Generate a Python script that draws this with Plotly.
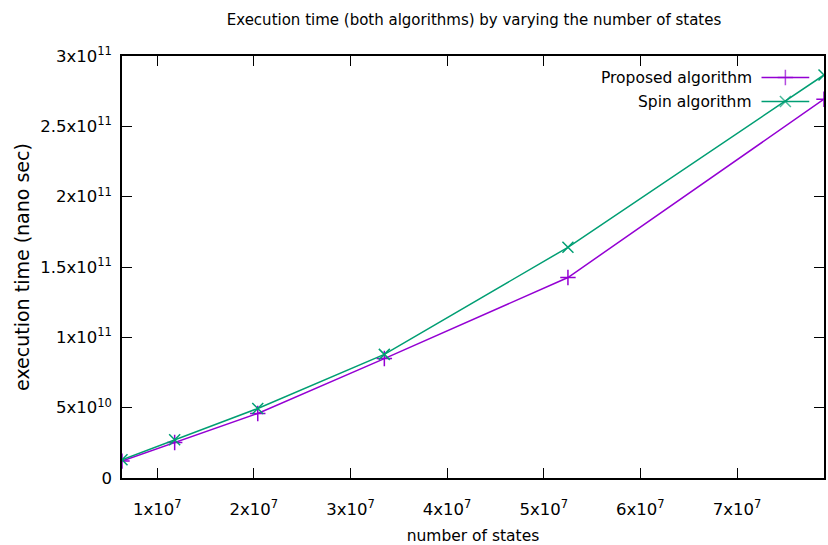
import plotly.graph_objects as go

# ---- data ----
states = [6.35e6, 1.18e7, 2.04e7, 3.35e7, 5.25e7, 7.90e7]
proposed_ns = [1.20e10, 2.52e10, 4.59e10, 8.49e10, 1.425e11, 2.693e11]
spin_ns = [1.30e10, 2.72e10, 4.94e10, 8.79e10, 1.640e11, 2.865e11]

series_names = ["Proposed algorithm", "Spin algorithm"]
x_tick_vals = [1e7, 2e7, 3e7, 4e7, 5e7, 6e7, 7e7]
x_tick_text = ["1x10<sup>7</sup>", "2x10<sup>7</sup>", "3x10<sup>7</sup>", "4x10<sup>7</sup>",
               "5x10<sup>7</sup>", "6x10<sup>7</sup>", "7x10<sup>7</sup>"]
y_tick_vals = [0, 5e10, 1e11, 1.5e11, 2e11, 2.5e11, 3e11]
y_tick_text = ["0", "5x10<sup>10</sup>", "1x10<sup>11</sup>", "1.5x10<sup>11</sup>",
               "2x10<sup>11</sup>", "2.5x10<sup>11</sup>", "3x10<sup>11</sup>"]

PURPLE = "#9400d3"
GREEN = "#009e73"
FONT = "DejaVu Sans"

fig = go.Figure()
fig.add_trace(go.Scatter(x=states, y=proposed_ns, mode="lines+markers", name=series_names[0],
                         line=dict(color=PURPLE, width=1.5),
                         marker=dict(symbol="cross-thin", size=11, line=dict(color=PURPLE, width=1.5)),
                         showlegend=False))
fig.add_trace(go.Scatter(x=states, y=spin_ns, mode="lines+markers", name=series_names[1],
                         line=dict(color=GREEN, width=1.5),
                         marker=dict(symbol="x-thin", size=11, line=dict(color=GREEN, width=1.5)),
                         showlegend=False))

# ---- custom gnuplot-style legend (text left of sample) ----
leg_text_x = 0.900
leg_x0, leg_x1 = 0.911, 0.979
leg_rows = [0.949, 0.892]
colors = [PURPLE, GREEN]
symbols = ["cross-thin", "x-thin"]
for name, yy, c, s in zip(series_names, leg_rows, colors, symbols):
    fig.add_annotation(x=leg_text_x, y=yy, xref="paper", yref="paper", text=name,
                       showarrow=False, xanchor="right", yanchor="middle",
                       font=dict(family=FONT, size=15.5, color="black"))
    fig.add_trace(go.Scatter(x=[leg_x0, (leg_x0 + leg_x1) / 2, leg_x1], y=[yy, yy, yy],
                             xaxis="x2", yaxis="y2", mode="lines+markers",
                             line=dict(color=c, width=1.5),
                             marker=dict(symbol=s, size=[0, 11, 0], line=dict(color=c, width=1.5)),
                             showlegend=False, hoverinfo="skip"))

axis_common = dict(showline=True, linecolor="black", linewidth=1.5, mirror="ticks",
                   ticks="inside", ticklen=10, tickcolor="black", tickwidth=1.2,
                   showgrid=False, zeroline=False,
                   tickfont=dict(family=FONT, size=16.5, color="black"))

fig.update_layout(
    width=828, height=545,
    margin=dict(l=122, r=2, t=56, b=66),
    paper_bgcolor="white", plot_bgcolor="white",
    title=dict(text="Execution time (both algorithms) by varying the number of states",
               x=0.5725, xanchor="center", y=0.963, yanchor="middle",
               font=dict(family=FONT, size=15, color="black")),
    xaxis=dict(range=[states[0], states[-1]], tickvals=x_tick_vals, ticktext=x_tick_text,
               ticklabelstandoff=15,
               title=dict(text="number of states", font=dict(family=FONT, size=15.5, color="black"),
                          standoff=14),
               **axis_common),
    yaxis=dict(range=[0, 3e11], tickvals=y_tick_vals, ticktext=y_tick_text,
               ticklabelstandoff=5,
               title=dict(text="execution time (nano sec)", font=dict(family=FONT, size=19, color="black"),
                          standoff=6),
               **axis_common),
    xaxis2=dict(overlaying="x", range=[0, 1], visible=False),
    yaxis2=dict(overlaying="y", range=[0, 1], visible=False),
)

fig.write_html("out.html")
